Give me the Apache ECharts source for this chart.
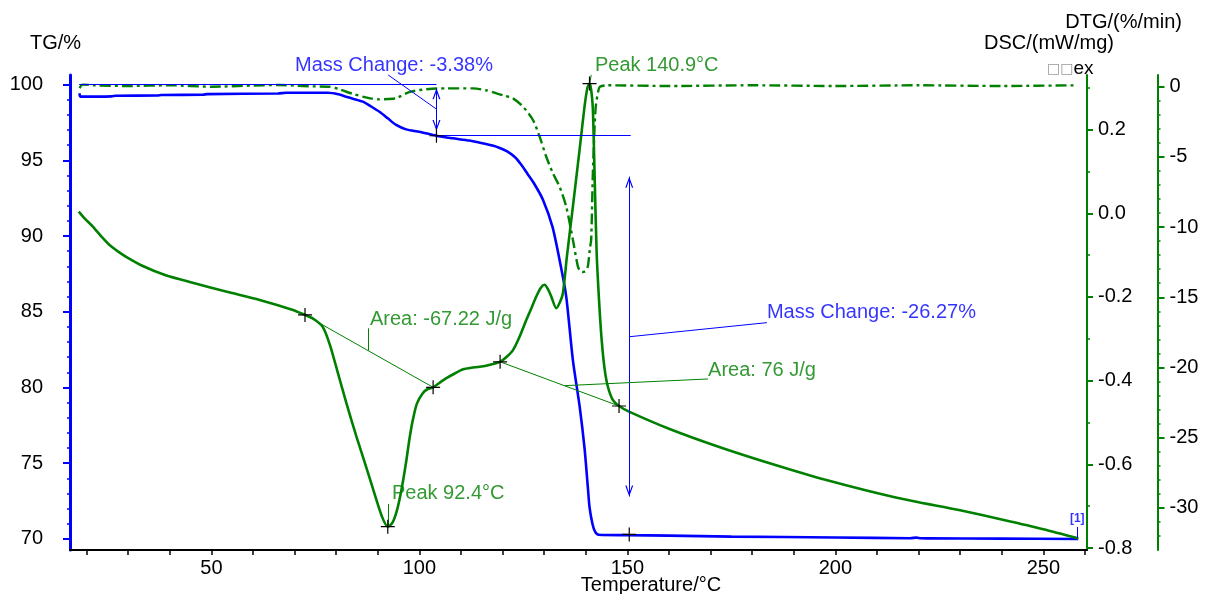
<!DOCTYPE html>
<html>
<head>
<meta charset="utf-8">
<title>TG / DSC / DTG</title>
<script src="https://cdn.jsdelivr.net/npm/echarts@6/dist/echarts.min.js"></script>
<style>
html, body { margin: 0; padding: 0; background: #fff; }
#chart { width: 1205px; height: 594px; }
</style>
</head>
<body>
<div id="chart"></div>
<script>
var FONT = '"Liberation Sans", Arial, sans-serif';
var BLUE = '#0000ff', GREEN = '#008000';

// TG (blue), %
var tgTemp = [18.3, 18.5, 26, 27, 37, 38, 48, 49, 66, 68, 78, 80.5, 82.4, 84.2, 86.4, 88.4, 90.4, 92.4, 94.4, 96.8,
    100, 104.1, 108, 112, 116, 119, 121, 123, 124.5, 126, 127.5, 129.7, 132, 134, 135.3, 136.9, 138.5, 139.7, 140.5,
    140.9, 141.6, 142.2, 143.1, 150, 160, 175, 200, 218, 219.5, 220.5, 222, 240, 258.4];
var tgMass = [99.42, 99.2, 99.22, 99.26, 99.28, 99.31, 99.33, 99.37, 99.41, 99.46, 99.46, 99.36, 99.2, 99.05, 98.87,
    98.55, 98.2, 97.77, 97.33, 97.04, 96.88, 96.62, 96.45, 96.3, 96.07, 95.85, 95.6, 95.2, 94.7, 94.1, 93.5, 92.4, 90.6,
    88.0, 86.0, 81.8, 78.8, 76.0, 73.4, 72.1, 71.0, 70.5, 70.28, 70.25, 70.22, 70.15, 70.1, 70.05, 70.09, 70.05, 70.04,
    70.02, 70.0];

// DSC (solid green), mW/mg
var dscTemp = [18.1, 19.5, 21.5, 23.5, 25.5, 27.5, 29.5, 33.5, 39, 45.5, 53.5, 61.6, 69.6, 72.5, 74.5, 76.8, 78.5,
    80.5, 82.4, 84.9, 87, 89.2, 91, 92.4, 93.5, 94.6, 95.7, 96.8, 97.6, 98.4, 99.4, 100.8, 102, 103.3, 105, 106.5, 108.5,
    110.5, 112.5, 114.5, 117, 119.4, 121, 122.5, 124, 125.7, 127, 128.1, 129.2, 130.1, 131, 131.7, 132.9, 133.8, 134.5,
    135.5, 136.9, 138.5, 139.7, 140.4, 140.9, 141.3, 141.7, 142.1, 142.6, 143.2, 143.8, 144.5, 145.3, 146.5, 148, 150.4,
    160, 171.9, 185, 197.6, 214.8, 230, 240.5, 250, 258.4];
var dscVal = [0.004, -0.012, -0.032, -0.055, -0.076, -0.091, -0.104, -0.126, -0.148, -0.166, -0.187, -0.207, -0.231,
    -0.243, -0.252, -0.272, -0.315, -0.385, -0.452, -0.535, -0.6, -0.67, -0.725, -0.749, -0.74, -0.71, -0.66, -0.595,
    -0.54, -0.495, -0.455, -0.43, -0.42, -0.416, -0.404, -0.394, -0.383, -0.373, -0.369, -0.367, -0.362, -0.355,
    -0.343, -0.327, -0.297, -0.255, -0.225, -0.199, -0.178, -0.171, -0.183, -0.199, -0.227, -0.212, -0.191, -0.1,
    0.016, 0.151, 0.255, 0.3, 0.31, 0.295, 0.25, 0.1, -0.09, -0.21, -0.3, -0.37, -0.414, -0.446, -0.4606, -0.474,
    -0.515, -0.558, -0.6, -0.637, -0.68, -0.71, -0.733, -0.755, -0.777];

// DTG (dash-dot green), %/min
var dtgTemp = [18.3, 19, 22, 30, 40, 50, 60, 66.4, 72, 75, 78.4, 80.5, 82.4, 84.5, 86.4, 88.5, 90.4, 92.5, 94.4, 95.6,
    96.8, 98.5, 100, 103, 106.5, 112.9, 116, 118.5, 120.5, 122.5, 124.9, 127.3, 128.9, 130.5, 132.1, 133.7, 135.3,
    136.9, 138.1, 138.7, 139.3, 140, 140.5, 141, 141.3, 141.7, 142.1, 142.4, 143, 143.4, 145, 160, 180, 200, 220, 240, 258];
var dtgVal = [-0.1, 0.15, 0.1, 0.05, 0.1, 0.0, 0.08, 0.12, 0.05, 0.02, 0.0, -0.15, -0.36, -0.55, -0.71, -0.85, -0.9,
    -0.88, -0.83, -0.65, -0.47, -0.32, -0.24, -0.15, -0.12, -0.12, -0.25, -0.47, -0.65, -0.83, -1.42, -2.37, -3.56,
    -4.99, -6.17, -7.12, -8.55, -10.9, -12.8, -13.15, -13.2, -13.1, -12.8, -11.5, -10.9, -6.17, -3.0, -1.42, -0.3,
    0.0, 0.1, 0.05, 0.1, 0.05, 0.1, 0.05, 0.1];

// ticks and labels
var xTicks = [20, 30, 40, 50, 60, 70, 80, 90, 100, 110, 120, 130, 140, 150, 160, 170, 180, 190, 200, 210, 220, 230, 240, 250, 260];
var xLabels = [50, 100, 150, 200, 250];
var tgLabels = [70, 75, 80, 85, 90, 95, 100];
var tgMinor = [71, 72, 73, 74, 76, 77, 78, 79, 81, 82, 83, 84, 86, 87, 88, 89, 91, 92, 93, 94, 96, 97, 98, 99];
var dscLabels = [0.2, 0.0, -0.2, -0.4, -0.6, -0.8];
var dscMinor = [0.3, 0.1, -0.1, -0.3, -0.5, -0.7];
var dtgLabels = [0, -5, -10, -15, -20, -25, -30];
var dtgMinor = [-1, -2, -3, -4, -6, -7, -8, -9, -11, -12, -13, -14, -16, -17, -18, -19, -21, -22, -23, -24,
    -26, -27, -28, -29, -31, -32];

// evaluation marks: [temperature, value]
var tgCrosses = [[104.1, 96.62], [150.45, 70.3]];
var dscCrosses = [[72.5, -0.243], [103.3, -0.416], [119.4, -0.355], [148.0, -0.4606], [92.4, -0.749], [140.9, 0.31]];
var tgNotes = [[70.1, 101.29, 'Mass Change: -3.38%'], [183.55, 84.95, 'Mass Change: -26.27%']];
var dscNotes = [[88.1, -0.2527, 'Area: -67.22 J/g'], [169.4, -0.3746, 'Area: 76 J/g'],
    [93.4, -0.6693, 'Peak 92.4\u00b0C'], [142.2, 0.3544, 'Peak 140.9\u00b0C']];

var CROSS = 'path://M0,6.4H14V7.6H0Z M6.4,0H7.6V14H6.4Z';
var HEAD = 'path://M5,12L10,24L8.4,24L5,15.6L1.6,24L0,24Z M5,0L5.01,0L5,0.01Z';

function pairs(a, b) {
    return a.map(function (t, i) { return [t, b[i]]; });
}
function seg(a, b) {
    return [{coord: a}, {coord: b}];
}
function arrow(a, b) {
    return [{coord: a, symbol: HEAD, symbolSize: [8, 22]}, {coord: b, symbol: HEAD, symbolSize: [8, 22]}];
}
function tickAxis(pos, offset, min, max, color, values, len) {
    return {
        type: 'value', position: pos, offset: offset, min: min, max: max,
        axisLine: {show: false}, splitLine: {show: false}, axisLabel: {show: false},
        axisTick: {show: true, customValues: values, length: len, lineStyle: {color: color, width: 1.5}}
    };
}
function textStyle(color) {
    return {color: color, fontSize: 20, fontFamily: FONT};
}

var chart = echarts.init(document.getElementById('chart'));
chart.setOption({
    animation: false,
    grid: {left: 70, right: 118, top: 75, bottom: 44},
    xAxis: {
        type: 'value', min: 16, max: 260.5,
        axisLine: {onZero: false, lineStyle: {color: '#000', width: 2}},
        axisTick: {customValues: xTicks, length: 5, lineStyle: {color: '#000', width: 1.5}},
        axisLabel: Object.assign({customValues: xLabels, margin: 8}, textStyle('#000')),
        splitLine: {show: false}
    },
    yAxis: [{
        type: 'value', position: 'left', min: 69.27, max: 100.63,
        axisLine: {show: true, lineStyle: {color: BLUE, width: 3}},
        axisTick: {show: true, customValues: tgLabels, length: 7, lineStyle: {color: BLUE, width: 2}},
        axisLabel: Object.assign({customValues: tgLabels, margin: 27}, textStyle('#000')),
        splitLine: {show: false}
    }, {
        type: 'value', position: 'right', offset: 0, min: -0.8048, max: 0.3305,
        axisLine: {show: true, lineStyle: {color: GREEN, width: 2}},
        axisTick: {show: true, customValues: dscLabels, length: 6, lineStyle: {color: GREEN, width: 2}},
        axisLabel: Object.assign({
            customValues: dscLabels, margin: 11,
            formatter: function (v) { return v.toFixed(1); }
        }, textStyle('#000')),
        splitLine: {show: false}
    }, {
        type: 'value', position: 'right', offset: 70.5, min: -33, max: 0.833,
        axisLine: {show: true, lineStyle: {color: GREEN, width: 2}},
        axisTick: {show: true, customValues: dtgLabels, length: 7, lineStyle: {color: GREEN, width: 2}},
        axisLabel: Object.assign({customValues: dtgLabels, margin: 12}, textStyle('#000')),
        splitLine: {show: false}
    },
        tickAxis('left', 0, 69.27, 100.63, BLUE, tgMinor, 3),
        tickAxis('right', 0, -0.8048, 0.3305, GREEN, dscMinor, 3),
        tickAxis('right', 70.5, -33, 0.833, GREEN, dtgMinor, 3)
    ],
    series: [{
        name: 'TG', type: 'line', yAxisIndex: 0, data: pairs(tgTemp, tgMass),
        showSymbol: false, smooth: 0.25, silent: true, z: 3,
        lineStyle: {color: BLUE, width: 2.6}, itemStyle: {color: BLUE},
        markLine: {
            silent: true, symbol: ['none', 'none'], label: {show: false},
            lineStyle: {color: BLUE, width: 1, type: 'solid'},
            data: [
                seg([18.2, 100], [104.1, 100]),
                seg([104.1, 96.62], [150.8, 96.62]),
                seg([92.5, 100.63], [104.1, 98.38]),
                seg([150.45, 83.35], [183.55, 84.28]),
                seg([258.1, 70.79], [258.1, 70.07]),
                arrow([104.1, 99.75], [104.1, 96.93]),
                arrow([150.45, 93.92], [150.45, 72.8])
            ]
        },
        markPoint: {
            silent: true, symbol: CROSS, symbolSize: 14, label: {show: false},
            itemStyle: {color: '#000'},
            data: tgCrosses.map(function (c) { return {coord: c}; })
        }
    }, {
        name: 'DSC', type: 'line', yAxisIndex: 1, data: pairs(dscTemp, dscVal),
        showSymbol: false, smooth: 0.25, silent: true, z: 4,
        lineStyle: {color: GREEN, width: 2.6}, itemStyle: {color: GREEN},
        markLine: {
            silent: true, symbol: ['none', 'none'], label: {show: false},
            lineStyle: {color: GREEN, width: 1, type: 'solid'},
            data: [
                seg([72.5, -0.243], [103.3, -0.416]),
                seg([119.4, -0.355], [148.0, -0.4606]),
                seg([87.7, -0.275], [87.7, -0.3284]),
                seg([135, -0.412], [169.4, -0.396]),
                seg([92.4, -0.695], [92.4, -0.749]),
                seg([141.3, 0.3305], [140.9, 0.306])
            ]
        },
        markPoint: {
            silent: true, symbol: CROSS, symbolSize: 14, label: {show: false},
            itemStyle: {color: '#000'},
            data: dscCrosses.map(function (c) { return {coord: c}; })
        }
    }, {
        name: 'DTG', type: 'line', yAxisIndex: 2, data: pairs(dtgTemp, dtgVal),
        showSymbol: false, smooth: 0.25, silent: true, z: 2,
        lineStyle: {color: GREEN, width: 2.4, type: [11, 4, 3, 4]}, itemStyle: {color: GREEN}
    }, {
        name: 'tgNotes', type: 'scatter', yAxisIndex: 0, symbolSize: 0, clip: false, silent: true, z: 6,
        data: tgNotes.map(function (n) { return {name: n[2], value: [n[0], n[1]]}; }).concat([{
            name: '[1]', value: [256.4, 71.32],
            label: {fontSize: 12, fontWeight: 'bold'}
        }]),
        label: Object.assign({show: true, position: 'right', distance: 0, formatter: '{b}'}, textStyle(BLUE))
    }, {
        name: 'dscNotes', type: 'scatter', yAxisIndex: 1, symbolSize: 0, clip: false, silent: true, z: 6,
        data: dscNotes.map(function (n) { return {name: n[2], value: [n[0], n[1]]}; }),
        label: Object.assign({show: true, position: 'right', distance: 0, formatter: '{b}'}, textStyle(GREEN))
    }],
    graphic: [
        {type: 'text', x: 30, y: 43, style: {text: 'TG/%', fill: '#000', font: '20px ' + FONT, align: 'left', verticalAlign: 'middle'}},
        {type: 'text', x: 1182, y: 22, style: {text: 'DTG/(%/min)', fill: '#000', font: '20px ' + FONT, align: 'right', verticalAlign: 'middle'}},
        {type: 'text', x: 1114, y: 43, style: {text: 'DSC/(mW/mg)', fill: '#000', font: '20px ' + FONT, align: 'right', verticalAlign: 'middle'}},
        {type: 'text', x: 1047, y: 69, style: {
            text: '{b|\u25a1\u25a1}{e|ex}', verticalAlign: 'middle',
            rich: {b: {fill: '#999', fontSize: 14, fontFamily: 'DejaVu Sans'}, e: {fill: '#000', fontSize: 19, fontFamily: FONT}}
        }},
        {type: 'text', x: 651, y: 585, style: {text: 'Temperature/\u00b0C', fill: '#000', font: '20px ' + FONT, align: 'center', verticalAlign: 'middle'}}
    ]
});
</script>
</body>
</html>
